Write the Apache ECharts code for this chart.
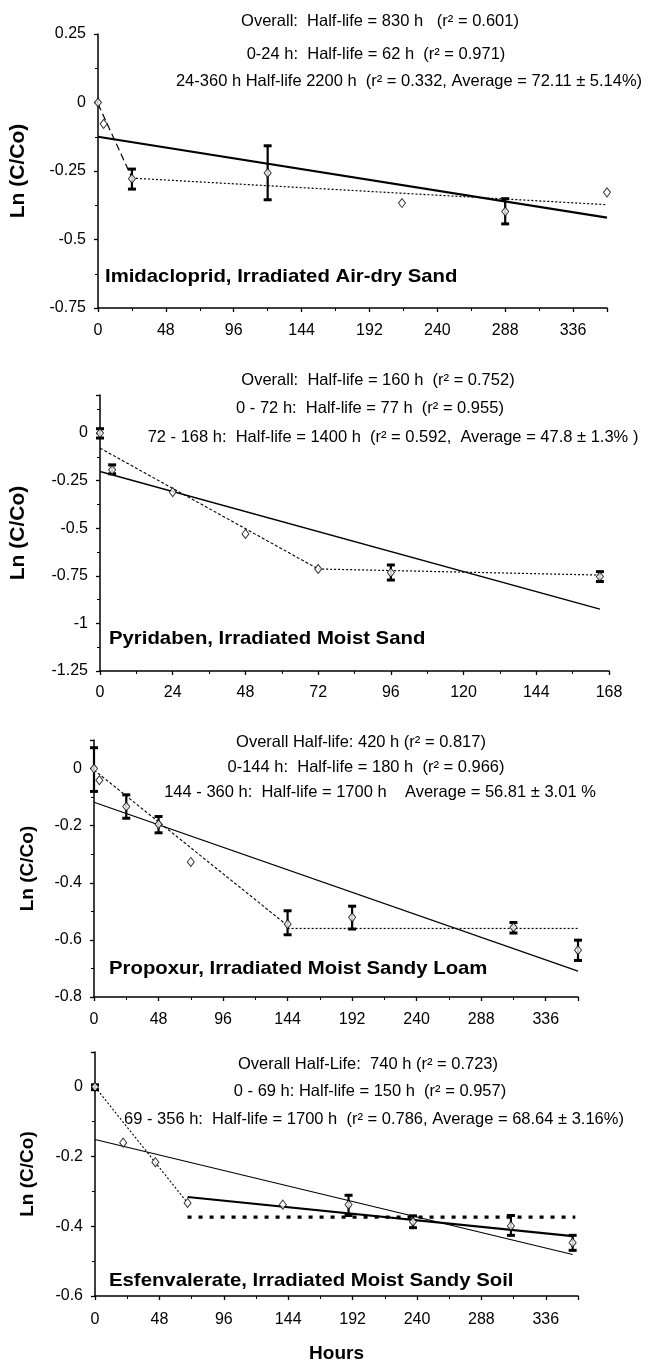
<!DOCTYPE html>
<html>
<head>
<meta charset="utf-8">
<script src="https://cdn.jsdelivr.net/npm/echarts@6/dist/echarts.min.js"></script>
<style>
html,body{margin:0;padding:0;background:#fff;}
#chart{width:648px;height:1364px;}
</style>
</head>
<body>
<div id="chart"></div>
<script>
// ---------- DATA ----------
// Panel 1: Imidacloprid
const p1Hours = [0, 4, 24, 120, 215, 288, 360];
const p1Values = [0, -0.078, -0.278, -0.257, -0.367, -0.398, -0.328];
const p1Err = [[24, -0.316, -0.243], [120, -0.355, -0.158], [288, -0.443, -0.351]];
const p1Overall = [[0, -0.125], [360, -0.42]];
const p1Early = [[0, -0.005], [24, -0.275]];
const p1Late = [[24, -0.276], [360, -0.373]];

// Panel 2: Pyridaben
const p2Hours = [0, 4, 24, 48, 72, 96, 165];
const p2Values = [0, -0.193, -0.31, -0.53, -0.714, -0.733, -0.754];
const p2Err = [[0, -0.026, 0.023], [4, -0.214, -0.167], [96, -0.772, -0.693], [165, -0.78, -0.728]];
const p2Overall = [[0, -0.202], [165, -0.925]];
const p2Early = [[0, -0.079], [72, -0.714]];
const p2Late = [[72, -0.714], [165, -0.746]];

// Panel 3: Propoxur
const p3Hours = [0, 4, 24, 48, 72, 144, 192, 312, 360];
const p3Values = [0, -0.041, -0.133, -0.195, -0.327, -0.545, -0.521, -0.556, -0.636];
const p3Err = [[0, -0.08, 0.073], [24, -0.174, -0.092], [48, -0.225, -0.168], [144, -0.582, -0.498],
               [192, -0.562, -0.482], [312, -0.576, -0.539], [360, -0.672, -0.601]];
const p3Overall = [[0, -0.118], [360, -0.709]];
const p3Early = [[0, -0.005], [144, -0.55]];
const p3Late = [[144, -0.56], [360, -0.56]];

// Panel 4: Esfenvalerate
const p4Hours = [0, 21, 45, 69, 140, 189, 237, 310, 356];
const p4Values = [0, -0.16, -0.216, -0.333, -0.338, -0.338, -0.387, -0.399, -0.447];
const p4Err = [[0, -0.008, 0.006], [189, -0.369, -0.311], [237, -0.404, -0.37], [310, -0.426, -0.369], [356, -0.469, -0.426]];
const p4Overall = [[0, -0.151], [356, -0.481]];
const p4Early = [[0, 0], [69, -0.333]];
const p4Late = [[69, -0.316], [356, -0.428]];
const p4Average = [[69, -0.374], [358, -0.374]];

// annotation texts
const p1Texts = ['Overall:  Half-life = 830 h   (r² = 0.601)', '0-24 h:  Half-life = 62 h  (r² = 0.971)',
                 '24-360 h Half-life 2200 h  (r² = 0.332, Average = 72.11 ± 5.14%)'];
const p2Texts = ['Overall:  Half-life = 160 h  (r² = 0.752)', '0 - 72 h:  Half-life = 77 h  (r² = 0.955)',
                 '72 - 168 h:  Half-life = 1400 h  (r² = 0.592,  Average = 47.8 ± 1.3% )'];
const p3Texts = ['Overall Half-life: 420 h (r² = 0.817)', '0-144 h:  Half-life = 180 h  (r² = 0.966)',
                 '144 - 360 h:  Half-life = 1700 h    Average = 56.81 ± 3.01 %'];
const p4Texts = ['Overall Half-Life:  740 h (r² = 0.723)', '0 - 69 h: Half-life = 150 h  (r² = 0.957)',
                 '69 - 356 h:  Half-life = 1700 h  (r² = 0.786, Average = 68.64 ± 3.16%)'];
const panelLabels = ['Imidacloprid, Irradiated Air-dry Sand', 'Pyridaben, Irradiated Moist Sand',
                     'Propoxur, Irradiated Moist Sandy Loam', 'Esfenvalerate, Irradiated Moist Sandy Soil'];

// ---------- CHART ----------
const FONT = '"Liberation Sans", Arial, sans-serif';
const chart = echarts.init(document.getElementById('chart'), null, {renderer: 'canvas'});

const grids = [
  {left: 93, top: 34, width: 514, height: 274},
  {left: 93, top: 395, width: 516, height: 276},
  {left: 94, top: 740, width: 484, height: 257},
  {left: 95, top: 1052, width: 483, height: 251}
];
const xCfg = [
  {max: 360, interval: 48, margin: 15, showMax: false},
  {max: 168, interval: 24, margin: 14, showMax: true},
  {max: 360, interval: 48, margin: 15, showMax: false},
  {max: 360, interval: 48, margin: 16, showMax: false}
];
const yCfg = [
  {min: -0.75, max: 0.25, interval: 0.25, gap: 69, showMax: true, nameSize: 21},
  {min: -1.25, max: 0.2, interval: 0.25, gap: 71, showMax: false, nameSize: 21},
  {min: -0.8, max: 0.1, interval: 0.2, gap: 57, showMax: false, nameSize: 19},
  {min: -0.6, max: 0.1, interval: 0.2, gap: 58, showMax: false, nameSize: 19}
];

function fmt(v) { return String(Math.round(v * 100) / 100); }

const xAxes = xCfg.map((c, i) => ({
  type: 'value', gridIndex: i, min: 0, max: c.max, interval: c.interval,
  axisLine: {onZero: false, lineStyle: {color: '#000', width: 1.5}},
  axisTick: {length: 4, lineStyle: {color: '#000', width: 1.3}},
  minorTick: {show: true, splitNumber: 2, length: 3, lineStyle: {color: '#000'}},
  splitLine: {show: false},
  axisLabel: {color: '#000', fontSize: 16, fontFamily: FONT, margin: c.margin, showMaxLabel: c.showMax},
  name: i === 3 ? 'Hours' : '',
  nameLocation: 'middle', nameGap: 48,
  nameTextStyle: {color: '#000', fontSize: 19, fontWeight: 'bold', fontFamily: FONT}
}));
const yAxes = yCfg.map((c, i) => ({
  type: 'value', gridIndex: i, min: c.min, max: c.max, interval: c.interval,
  axisLine: {onZero: false, lineStyle: {color: '#000', width: 1.5}},
  axisTick: {length: 4, lineStyle: {color: '#000', width: 1.3}},
  minorTick: {show: true, splitNumber: 2, length: 3, lineStyle: {color: '#000'}},
  splitLine: {show: false},
  axisLabel: {color: '#000', fontSize: 16, fontFamily: FONT, margin: 12, formatter: fmt, showMaxLabel: c.showMax},
  name: 'Ln (C/Co)', nameLocation: 'middle', nameGap: c.gap,
  nameTextStyle: {color: '#000', fontSize: c.nameSize, fontWeight: 'bold', fontFamily: FONT}
}));

function errRender(params, api) {
  const x = api.value(0), lo = api.value(1), hi = api.value(2);
  const a = api.coord([x, lo]), b = api.coord([x, hi]);
  const w = 4;
  const st = {stroke: '#000', lineWidth: 2.2};
  return {type: 'group', children: [
    {type: 'line', shape: {x1: a[0], y1: a[1], x2: b[0], y2: b[1]}, style: st},
    {type: 'line', shape: {x1: a[0] - w, y1: a[1], x2: a[0] + w, y2: a[1]}, style: {stroke: '#000', lineWidth: 3}},
    {type: 'line', shape: {x1: b[0] - w, y1: b[1], x2: b[0] + w, y2: b[1]}, style: {stroke: '#000', lineWidth: 3}}
  ]};
}

function lineS(i, data, type, width) {
  return {type: 'line', xAxisIndex: i, yAxisIndex: i, data: data, showSymbol: false, silent: true,
          lineStyle: {color: '#000', width: width, type: type}, z: 2, animation: false};
}
function pointsS(i, hours, vals) {
  return {type: 'scatter', xAxisIndex: i, yAxisIndex: i, data: hours.map((h, k) => [h, vals[k]]),
          symbol: 'diamond', symbolSize: [7, 9],
          itemStyle: {color: '#fff', borderColor: '#000', borderWidth: 1}, z: 5, animation: false};
}
function errS(i, data) {
  return {type: 'custom', xAxisIndex: i, yAxisIndex: i, data: data, renderItem: errRender,
          encode: {x: 0, y: [1, 2]}, z: 4, animation: false};
}

const series = [
  lineS(0, p1Overall, 'solid', 2.2), lineS(0, p1Early, [7, 4], 1.2), lineS(0, p1Late, [2, 2], 1.2),
  errS(0, p1Err), pointsS(0, p1Hours, p1Values),
  lineS(1, p2Overall, 'solid', 1.4), lineS(1, p2Early, [3, 2], 1.1), lineS(1, p2Late, [2, 2], 1.2),
  errS(1, p2Err), pointsS(1, p2Hours, p2Values),
  lineS(2, p3Overall, 'solid', 1.3), lineS(2, p3Early, [3, 2], 1.1), lineS(2, p3Late, [2, 2], 1.2),
  errS(2, p3Err), pointsS(2, p3Hours, p3Values),
  lineS(3, p4Overall, 'solid', 1.2), lineS(3, p4Early, [2, 2], 1.1), lineS(3, p4Late, 'solid', 2.2),
  lineS(3, p4Average, [4, 7], 3.2),
  errS(3, p4Err), pointsS(3, p4Hours, p4Values)
];

// annotation placements (center x, center y of each line)
const textPos = [
  [[380, 21], [376, 54], [409, 81]],
  [[378, 380], [370, 408], [393, 437]],
  [[361, 742], [366, 767], [380, 792]],
  [[368, 1064], [370, 1091], [374, 1119]]
];
const labelPos = [[105, 277], [109, 639], [109, 969], [109, 1281]];
const allTexts = [p1Texts, p2Texts, p3Texts, p4Texts];
const graphic = [];
allTexts.forEach((lines, i) => {
  lines.forEach((t, j) => {
    graphic.push({type: 'text', x: textPos[i][j][0], y: textPos[i][j][1], z: 10,
      style: {text: t, fill: '#000', font: '16.5px ' + FONT, textAlign: 'center', textVerticalAlign: 'middle'}});
  });
  graphic.push({type: 'text', x: labelPos[i][0], y: labelPos[i][1], z: 10, scaleX: 1.07,
    style: {text: panelLabels[i], fill: '#000', font: 'bold 19px ' + FONT, textAlign: 'left', textVerticalAlign: 'middle'}});
});

chart.setOption({
  animation: false,
  backgroundColor: '#fff',
  grid: grids,
  xAxis: xAxes,
  yAxis: yAxes,
  series: series,
  graphic: graphic
});
</script>
</body>
</html>
